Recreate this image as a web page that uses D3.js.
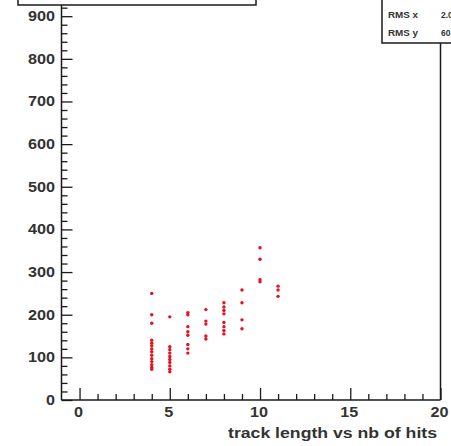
<!DOCTYPE html>
<html><head><meta charset="utf-8">
<script src="https://cdn.jsdelivr.net/npm/d3@7"></script>
<style>
html,body{margin:0;padding:0;background:#fff;overflow:hidden;}
svg{display:block;}
</style></head>
<body>
<svg id="c" width="451" height="446"></svg>
<script>
// nb of hits (x) and track length (y)
const hits = [
  4,4,4,4,4,4,4,4,4,4,4,4,4,4,
  5,5,5,5,5,5,5,5,5,5,
  6,6,6,6,6,6,6,6,
  7,7,7,7,7,
  8,8,8,8,8,8,8,8,
  9,9,9,9,
  10,10,10,10,
  11,11,11
];
const lengths = [
  250,200,180,140,133,127,120,113,105,97,90,83,77,72,
  195,125,118,110,102,95,88,80,72,66,
  205,200,172,160,152,130,120,110,
  212,185,178,150,143,
  228,218,210,202,182,172,163,155,
  258,228,188,167,
  357,330,282,277,
  267,258,243
];
const xTickLabels = [0,5,10,15,20];
const yTickLabels = [0,100,200,300,400,500,600,700,800,900];
const xTitle = "track length vs nb of hits";
const statNames = ["RMS x","RMS y"];
const statValues = ["2.046","60.47"];

const svg = d3.select("#c");
const pLeft = 61.5, pRight = 440.5, pBottom = 400, pTop = -3;
const x = d3.scaleLinear().domain([-1, 20]).range([pLeft, pRight]);
const y = d3.scaleLinear().domain([0, 945]).range([pBottom, pTop]);

const ink = "#1a1a1a";
const font = "'Liberation Sans', Arial, sans-serif";
const digitW = 9;

// frame right edge
svg.append("line").attr("x1", pRight).attr("x2", pRight).attr("y1", -5).attr("y2", pBottom)
  .attr("stroke", ink).attr("stroke-width", 1.5);

// Y axis
const yAxis = d3.axisRight(y).tickValues(d3.range(0, 941, 20)).tickSize(6).tickFormat("");
const gy = svg.append("g").attr("transform", `translate(${pLeft},0)`).call(yAxis);
gy.select(".domain").remove();
gy.selectAll(".tick line").attr("x2", d => d % 100 === 0 ? 11 : 6)
  .attr("stroke", ink).attr("stroke-width", 1.3);
svg.append("line").attr("x1", pLeft).attr("x2", pLeft).attr("y1", -5).attr("y2", pBottom)
  .attr("stroke", ink).attr("stroke-width", 1.5);
svg.append("g").selectAll("text").data(yTickLabels).join("text")
  .attr("x", 55).attr("y", d => y(d) + 5)
  .attr("text-anchor", "end")
  .attr("font-family", font).attr("font-weight", "bold").attr("font-size", 14)
  .attr("fill", "#333")
  .attr("textLength", d => String(d).length * digitW).attr("lengthAdjust", "spacingAndGlyphs")
  .text(d => d);

// X axis
const xAxis = d3.axisTop(x).tickValues(d3.range(0, 21, 1)).tickSize(6).tickFormat("");
const gx = svg.append("g").attr("transform", `translate(0,${pBottom})`).call(xAxis);
gx.select(".domain").remove();
gx.selectAll(".tick line").attr("y2", d => d % 5 === 0 ? -12 : -6)
  .attr("stroke", ink).attr("stroke-width", 1.3);
svg.append("line").attr("x1", pLeft).attr("x2", pRight).attr("y1", pBottom).attr("y2", pBottom)
  .attr("stroke", ink).attr("stroke-width", 1.5);
svg.append("g").selectAll("text").data(xTickLabels).join("text")
  .attr("x", d => x(d) - 1).attr("y", 417)
  .attr("text-anchor", "middle")
  .attr("font-family", font).attr("font-weight", "bold").attr("font-size", 14)
  .attr("fill", "#333")
  .attr("textLength", d => String(d).length * digitW).attr("lengthAdjust", "spacingAndGlyphs")
  .text(d => d);

svg.append("text").attr("x", 228).attr("y", 438).attr("text-anchor", "start")
  .attr("font-family", font).attr("font-weight", "bold").attr("font-size", 14.5)
  .attr("fill", "#333")
  .attr("textLength", 209).attr("lengthAdjust", "spacingAndGlyphs")
  .text(xTitle);

// points
svg.append("g").selectAll("circle").data(hits.map((h, i) => [h, lengths[i]])).join("circle")
  .attr("cx", d => x(d[0])).attr("cy", d => y(d[1]))
  .attr("r", 1.7).attr("fill", "#e8101e");

// title box (mostly above the picture)
svg.append("rect").attr("x", 18).attr("y", -30).attr("width", 238).attr("height", 35)
  .attr("fill", "#fff").attr("stroke", ink).attr("stroke-width", 1.5);

// stats box
svg.append("rect").attr("x", 382).attr("y", -30).attr("width", 100).attr("height", 73)
  .attr("fill", "#fff").attr("stroke", ink).attr("stroke-width", 1.5);
const st = svg.append("g").attr("font-family", font).attr("font-weight", "bold")
  .attr("font-size", 8.5).attr("fill", "#333");
st.selectAll("text.n").data(statNames).join("text").attr("class", "n")
  .attr("x", 388).attr("y", (d, i) => 18 + i * 18)
  .attr("textLength", 30).attr("lengthAdjust", "spacingAndGlyphs")
  .text(d => d);
st.selectAll("text.v").data(statValues).join("text").attr("class", "v")
  .attr("x", 441).attr("y", (d, i) => 18 + i * 18).text(d => d);
</script>
</body></html>
